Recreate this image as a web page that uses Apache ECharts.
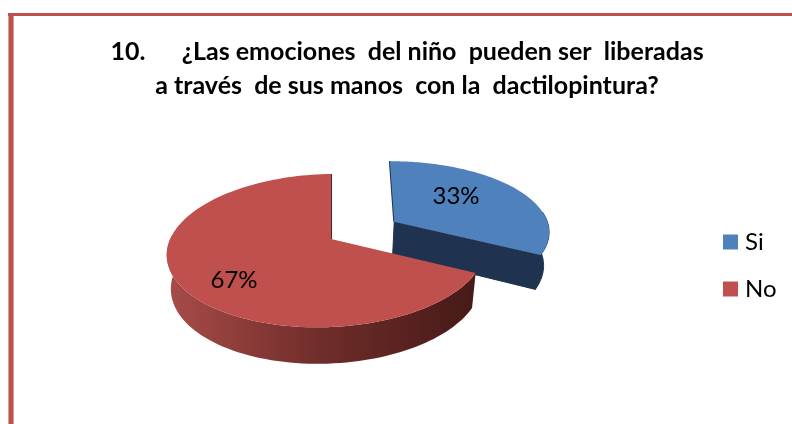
<!DOCTYPE html>
<html>
<head>
<meta charset="utf-8">
<style>
  html, body { margin: 0; padding: 0; background: #fff; }
  #chart { width: 792px; height: 424px; }
</style>
<script src="https://cdn.jsdelivr.net/npm/echarts@6/dist/echarts.min.js"></script>
</head>
<body>
<div id="chart"></div>
<script>
const categories = ['Si', 'No'];
const percents = [33, 67];
const titleText = '10.      ¿Las emociones  del niño  pueden ser  liberadas\na través  de sus manos  con la  dactilopintura?';

// explode offset in pie units, one per slice
const explode = [[0.42, -0.22], [0, 0]];
// the pulled out slice looks a bit wider and turned in the picture
const widen = [1.05, 1];
const turn = [1.5, 0];
const labelAt = [[456, 196], [234, 280]];
const topColors = ['#4f81bd', '#c0504d'];
const total = percents.reduce((a, b) => a + b, 0);

// tilted pie projection, apex of the red slice is at 331,239
const project = (u, v, depth) => {
  const d = 1 - 0.15 * v + 0.03 * u;
  const x = 331 + (157.5 * u) / d;
  const y = 239 + (-4 * u + 74.8 * v) / d;
  if (!depth) return [x, y];
  return [331 + (x - 331) * 0.975, y + 33.5 + 3 * v];
};

const sliceShapes = (idx, api) => {
  const value = api.value(0);
  const before = percents.slice(0, idx).reduce((a, b) => a + b, 0);
  const shift = (turn[idx] * Math.PI) / 180;
  const from = (before / total) * Math.PI * 2 + shift;
  const to = ((before + value) / total) * Math.PI * 2 + shift;
  const [ox, oy] = explode[idx];
  const rim = (t) => [ox + widen[idx] * Math.sin(t), oy - Math.cos(t)];
  const top = [];
  const wallTop = [];
  const wallBottom = [];
  for (let i = 0; i <= 120; i++) {
    const t = from + ((to - from) * i) / 120;
    const [u, v] = rim(t);
    top.push(project(u, v, false));
    // only the front part of the rim shows
    if (-Math.cos(t) > -0.1) {
      wallTop.push(project(u, v, false));
      wallBottom.push(project(u, v, true));
    }
  }
  const apexTop = project(ox, oy, false);
  const apexBottom = project(ox, oy, true);
  const endRim = rim(to);
  const endBottom = project(endRim[0], endRim[1], true);
  const backEdge = idx === 0 ? top[0] : top[120];
  const wallFill = idx === 0 ? '#1f3350' : {
    type: 'linear', x: 171, y: 0, x2: 472, y2: 0, global: true,
    colorStops: [
      { offset: 0, color: '#a64b48' },
      { offset: 0.5, color: '#6f2d2a' },
      { offset: 1, color: '#471a18' },
    ],
  };
  const faceFill = idx === 0 ? '#1f3350' : '#5a2321';
  const poly = (points, fill, stroke) => ({
    type: 'polygon',
    shape: { points },
    style: { fill, stroke: stroke || null, lineWidth: stroke ? 1 : 0 },
    silent: true,
  });
  return {
    type: 'group',
    children: [
      poly(wallTop.concat(wallBottom.slice().reverse()), wallFill, idx === 0 ? faceFill : null),
      poly([apexTop, top[120], endBottom, apexBottom], faceFill, idx === 0 ? faceFill : null),
      {
        type: 'line',
        silent: true,
        shape: { x1: apexTop[0], y1: apexTop[1], x2: backEdge[0], y2: backEdge[1] },
        style: { stroke: faceFill, lineWidth: 2 },
      },
      poly([apexTop].concat(top), topColors[idx]),
      {
        type: 'text',
        silent: true,
        style: {
          x: labelAt[idx][0],
          y: labelAt[idx][1],
          text: value + '%',
          fill: '#000',
          font: '24px Lato',
          align: 'center',
          verticalAlign: 'middle',
        },
      },
    ],
  };
};

const chart = echarts.init(document.getElementById('chart'), null, { renderer: 'canvas' });
chart.setOption({
  animation: false,
  backgroundColor: '#fff',
  title: {
    text: titleText,
    left: 402,
    top: 30,
    textAlign: 'center',
    textStyle: { fontFamily: 'Lato', fontWeight: 'bold', fontSize: 25, lineHeight: 34, color: '#000' },
  },
  legend: {
    orient: 'vertical',
    left: 718,
    top: 225,
    icon: 'rect',
    itemWidth: 15,
    itemHeight: 15,
    itemGap: 23,
    data: categories,
    textStyle: { fontFamily: 'Lato', fontSize: 24, color: '#000', padding: [0, 0, 0, 2] },
    selectedMode: false,
  },
  graphic: [
    { type: 'rect', shape: { x: 8, y: 13, width: 784, height: 3 }, style: { fill: '#c0504d' } },
    { type: 'rect', shape: { x: 8, y: 13, width: 6, height: 411 }, style: { fill: '#c0504d' } },
    { type: 'rect', shape: { x: 8, y: 16, width: 1, height: 408 }, style: { fill: '#dc9a98' } },
    { type: 'rect', shape: { x: 13, y: 16, width: 1, height: 408 }, style: { fill: '#dc9a98' } },
  ],
  series: categories.map((name, idx) => ({
    type: 'custom',
    name,
    coordinateSystem: 'none',
    itemStyle: { color: topColors[idx] },
    data: [[percents[idx]]],
    renderItem: (params, api) => sliceShapes(idx, api),
  })),
});
</script>
</body>
</html>
